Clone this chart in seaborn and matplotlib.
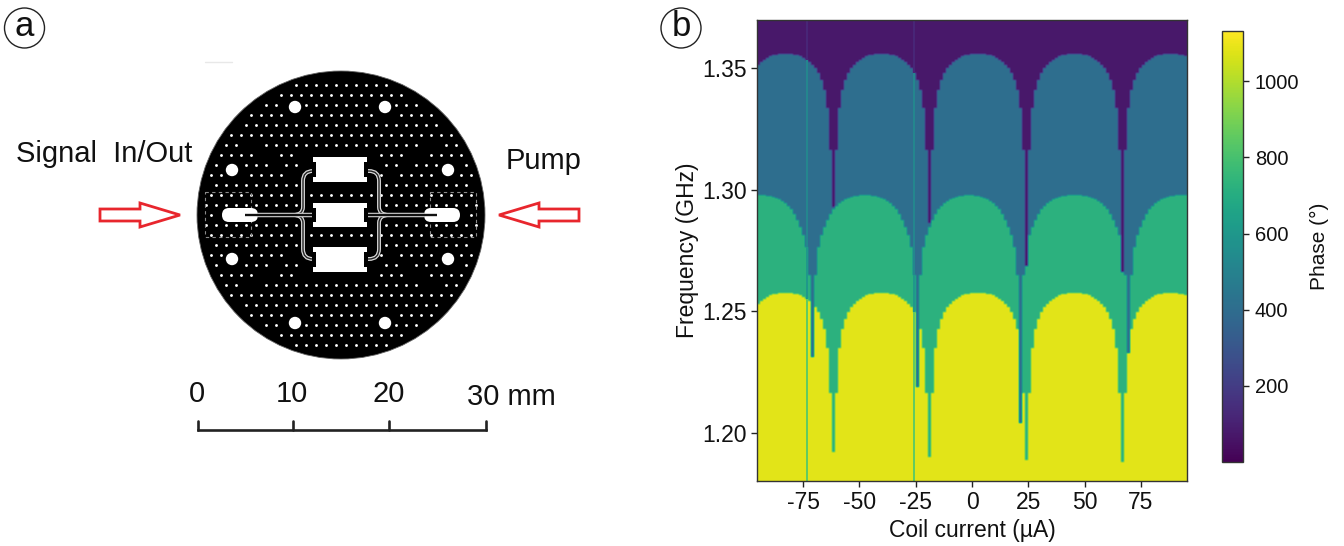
import numpy as np
import matplotlib
matplotlib.use("Agg")
import matplotlib.pyplot as plt
from matplotlib.patches import Circle, Rectangle, FancyBboxPatch, Polygon, PathPatch
from matplotlib.path import Path
import seaborn as sns

# ---------- data ----------
current_range = [-95.5, 95.5]      # Coil current, uA
frequency_range = [1.1803, 1.3697]  # GHz
x_ticks = [-75, -50, -25, 0, 25, 50, 75]
y_ticks = [1.20, 1.25, 1.30, 1.35]
cbar_ticks = [200, 400, 600, 800, 1000]
phase_limits = [0, 1132]

# phase plateau of each region, from high to low frequency
band_phase = [75, 405, 725, 1082]
# two faulty sweeps that show as thin lines
glitch_currents = [-73.3, -25.8]
glitch_phase = [120, 520, 610, 860]

# purple/blue boundary (GHz), one value per current column
top_edge = [
    1.3513,1.3525,1.3533,1.3542,1.3548,1.3552,1.3554,1.3556,1.3558,1.3558,1.3558,1.3556,1.3554,1.3552,1.3548,1.3542,1.3533,1.3525,1.3513,1.3500,1.3480,1.3451,1.3410,1.3336,1.3164,
    1.2929,
    1.3164,1.3336,1.3410,1.3451,1.3480,1.3500,1.3513,1.3525,1.3533,1.3542,1.3548,1.3552,1.3554,1.3556,1.3558,1.3558,1.3558,1.3556,1.3554,1.3552,1.3548,1.3542,1.3533,1.3525,1.3513,1.3500,1.3480,1.3451,1.3410,1.3336,1.3164,
    1.2863,
    1.3164,1.3336,1.3410,1.3451,1.3480,1.3500,1.3513,1.3525,1.3533,1.3542,1.3548,1.3552,1.3554,1.3556,1.3558,1.3558,1.3558,1.3556,1.3554,1.3552,1.3548,1.3542,1.3533,1.3525,1.3513,1.3500,1.3480,1.3451,1.3410,1.3336,1.3164,
    1.2687,
    1.3164,1.3336,1.3410,1.3451,1.3480,1.3500,1.3513,1.3525,1.3533,1.3542,1.3548,1.3552,1.3554,1.3556,1.3558,1.3558,1.3558,1.3556,1.3554,1.3552,1.3548,1.3542,1.3533,1.3525,1.3513,1.3500,1.3480,1.3451,1.3410,1.3336,1.3164,
    1.2662,
    1.3164,1.3336,1.3410,1.3451,1.3480,1.3500,1.3513,1.3525,1.3533,1.3542,1.3548,1.3552,1.3554,1.3556,1.3558,1.3558,1.3558,1.3556,1.3554,1.3552,1.3548,
]

# blue/green boundary (GHz)
mid_edge = [
    1.2979,1.2979,1.2979,1.2974,1.2974,1.2970,1.2966,1.2962,1.2954,1.2946,1.2933,1.2921,1.2900,1.2876,1.2847,1.2814,1.2765,1.2650,
    1.2313,
    1.2650,1.2765,1.2814,1.2847,1.2876,1.2900,1.2921,1.2933,1.2946,1.2954,1.2962,1.2966,1.2970,1.2974,1.2974,1.2979,1.2979,
    1.2979,1.2979,1.2974,1.2974,1.2970,1.2966,1.2962,1.2954,1.2946,1.2933,1.2921,1.2900,1.2876,1.2847,1.2814,1.2765,1.2650,
    1.2189,
    1.2650,1.2765,1.2814,1.2847,1.2876,1.2900,1.2921,1.2933,1.2946,1.2954,1.2962,1.2966,1.2970,1.2974,1.2974,1.2979,1.2979,
    1.2979,1.2974,1.2974,1.2970,1.2966,1.2962,1.2954,1.2946,1.2933,1.2921,1.2900,1.2876,1.2847,1.2814,1.2765,1.2650,
    1.2041,
    1.2650,1.2765,1.2814,1.2847,1.2876,1.2900,1.2921,1.2933,1.2946,1.2954,1.2962,1.2966,1.2970,1.2974,1.2974,1.2979,1.2979,
    1.2979,
    1.2979,1.2979,1.2974,1.2974,1.2970,1.2966,1.2962,1.2954,1.2946,1.2933,1.2921,1.2900,1.2876,1.2847,1.2814,1.2765,1.2650,
    1.2329,
    1.2650,1.2765,1.2814,1.2847,1.2876,1.2900,1.2921,1.2933,1.2946,1.2954,1.2962,1.2966,1.2970,1.2974,1.2974,1.2979,1.2979,
    1.2979,1.2979,
]

# green/yellow boundary (GHz)
low_edge = [
    1.2531,1.2543,1.2551,1.2559,1.2566,1.2570,1.2572,1.2574,1.2576,1.2576,1.2576,1.2574,1.2572,1.2570,1.2566,1.2559,1.2551,1.2543,1.2531,1.2518,1.2498,1.2469,1.2428,1.2350,1.2165,
    1.1922,
    1.2165,1.2350,1.2428,1.2469,1.2498,1.2518,1.2531,1.2543,1.2551,1.2559,1.2566,1.2570,1.2572,1.2574,1.2576,1.2576,1.2576,1.2574,1.2572,1.2570,1.2566,1.2559,1.2551,1.2543,1.2531,1.2518,1.2498,1.2469,1.2428,1.2350,1.2165,
    1.1902,
    1.2165,1.2350,1.2428,1.2469,1.2498,1.2518,1.2531,1.2543,1.2551,1.2559,1.2566,1.2570,1.2572,1.2574,1.2576,1.2576,1.2576,1.2574,1.2572,1.2570,1.2566,1.2559,1.2551,1.2543,1.2531,1.2518,1.2498,1.2469,1.2428,1.2350,1.2165,
    1.1889,
    1.2165,1.2350,1.2428,1.2469,1.2498,1.2518,1.2531,1.2543,1.2551,1.2559,1.2566,1.2570,1.2572,1.2574,1.2576,1.2576,1.2576,1.2574,1.2572,1.2570,1.2566,1.2559,1.2551,1.2543,1.2531,1.2518,1.2498,1.2469,1.2428,1.2350,1.2165,
    1.1881,
    1.2165,1.2350,1.2428,1.2469,1.2498,1.2518,1.2531,1.2543,1.2551,1.2559,1.2566,1.2570,1.2572,1.2574,1.2576,1.2576,1.2576,1.2574,1.2572,1.2570,1.2566,
]

scale_labels = ["0", "10", "20", "30 mm"]

# ---------- figure ----------
sns.set_theme(style="ticks")
plt.rcParams["font.family"] = ["Liberation Sans", "DejaVu Sans"]
plt.rcParams["axes.unicode_minus"] = False

W, H = 1344, 546
fig = plt.figure(figsize=(W / 100, H / 100), dpi=100)

# ---------- panel a: drawn on a full-figure canvas in pixels ----------
bg = fig.add_axes([0, 0, 1, 1], zorder=0)
bg.set_xlim(0, W)
bg.set_ylim(H, 0)
bg.axis("off")

cx, cy, r = 341, 215, 144
bg.add_patch(Circle((cx, cy), r, fc="black", ec="#666666", lw=0.6))
bg.plot([205, 232], [62, 62], color="#e8e8e8", lw=1)

holes = [(295, 107), (385, 107), (232, 170), (448, 170),
         (232, 259), (448, 259), (295, 323), (385, 323)]
rects = [(157, 182), (203, 227), (247, 272)]

dx, dy = [], []
for i in range(-15, 16):
    for j in range(-15, 16):
        x = cx + 10 * j + (5 if i % 2 else 0)
        y = cy + 10 * i
        rad = np.hypot(x - cx, y - cy)
        if rad > r - 6:
            continue
        if any(np.hypot(x - hx, y - hy) < 11 for hx, hy in holes):
            continue
        if 299 < x < 381 and 150 < y < 280 and not (
            308 < x < 372 and (187 < y < 198 or 232 < y < 242)):
            continue
        if abs(y - cy) < 6 and (218 < x < 300 or 382 < x < 464):
            continue
        ang = np.degrees(np.arctan2(abs(y - cy), abs(x - cx)))
        if 60 < rad < 125 and abs(ang - 38) < 3:
            continue
        dx.append(x)
        dy.append(y)
bg.scatter(dx, dy, s=4.2, c="white", linewidths=0, zorder=2)

for hx, hy in holes:
    bg.add_patch(Circle((hx, hy), 6.2, fc="white", ec="none", zorder=3))

# dashed launch frames
for x0 in (205, 430):
    bg.add_patch(Rectangle((x0, 192), 46, 45, fc="none", ec="#8a8a8a", lw=0.8,
                           ls=(0, (3, 3)), zorder=3))

# feed lines and couplers
for sx in (1, -1):
    for sy in (1, -1):
        verts = [(cx + sx * 48, cy), (cx + sx * 38, cy), (cx + sx * 38, cy + sy * 8),
                 (cx + sx * 38, cy + sy * 15), (cx + sx * 38, cy + sy * 34),
                 (cx + sx * 38, cy + sy * 44), (cx + sx * 28, cy + sy * 44),
                 (cx + sx * 26, cy + sy * 44)]
        codes = [Path.MOVETO, Path.CURVE3, Path.CURVE3, Path.LINETO, Path.LINETO,
                 Path.CURVE3, Path.CURVE3, Path.LINETO]
        path = Path(verts, codes)
        bg.add_patch(PathPatch(path, fc="none", ec="#d8d8d8", lw=2.8, zorder=4))
        bg.add_patch(PathPatch(path, fc="none", ec="#222222", lw=1.0, zorder=5))

# launch slots
for x0 in (222, 424):
    bg.add_patch(FancyBboxPatch((x0, 208), 36, 14, boxstyle="round,pad=0,rounding_size=7",
                                mutation_aspect=1, fc="white", ec="none", zorder=4))
bg.plot([258, 424], [214.5, 214.5], color="#e0e0e0", lw=3.2, zorder=5, solid_capstyle="butt")
bg.plot([245, 437], [214.5, 214.5], color="#111111", lw=1.7, zorder=6, solid_capstyle="butt")

# white resonator blocks
for top, bottom in rects:
    bg.add_patch(Rectangle((313, top), 54, bottom - top, fc="white", ec="none", zorder=7))
    for xn in (312, 364):
        bg.add_patch(Rectangle((xn, top + 5), 4, bottom - top - 10, fc="black", ec="none", zorder=8))

# red arrows
red = "#e8262d"
left_arrow = [(100, 209), (140, 209), (140, 203), (180, 215), (140, 227), (140, 221), (100, 221)]
bg.add_patch(Polygon(left_arrow, closed=True, fc="white", ec=red, lw=2, joinstyle="miter"))
right_arrow = [(579, 209), (539, 209), (539, 203), (499, 215), (539, 227), (539, 221), (579, 221)]
bg.add_patch(Polygon(right_arrow, closed=True, fc="white", ec=red, lw=2, joinstyle="miter"))

txt = dict(fontsize=21, color="#111111", va="baseline")
bg.text(16, 162, "Signal  In/Out", ha="left", **txt)
bg.text(506, 169, "Pump", ha="left", **txt)

# scale bar
bar_x = [198, 293, 389, 486]
bg.plot([bar_x[0], bar_x[-1]], [430, 430], color="#222222", lw=1.9, solid_capstyle="projecting")
for x in bar_x:
    bg.plot([x, x], [421, 430], color="#222222", lw=1.9)
bg.text(197, 402, scale_labels[0], ha="center", **txt)
bg.text(292, 402, scale_labels[1], ha="center", **txt)
bg.text(389, 402, scale_labels[2], ha="center", **txt)
bg.text(467, 405, scale_labels[3], ha="left", **txt)

# panel letters
for (lx, ly, s) in [(24.5, 28, "a"), (681, 28, "b")]:
    bg.add_patch(Circle((lx, ly), 20, fc="white", ec="#222222", lw=1))
    bg.text(lx, ly - 1, s, fontsize=25, color="#111111", ha="center", va="center")

# ---------- panel b ----------
n_sweeps = len(top_edge)
sub = 3                 # each sweep column is resampled to 3 image columns
n_cols = n_sweeps * sub
n_rows = 461
col_edges = np.linspace(current_range[0], current_range[1], n_cols + 1)
col_centers = 0.5 * (col_edges[:-1] + col_edges[1:])
row_edges = np.linspace(frequency_range[1], frequency_range[0], n_rows + 1)
row_centers = 0.5 * (row_edges[:-1] + row_edges[1:])

top = np.repeat(np.array(top_edge), sub)[None, :]
mid = np.repeat(np.array(mid_edge), sub)[None, :]
low = np.repeat(np.array(low_edge), sub)[None, :]
F = row_centers[:, None]
masks = [F > top, F > mid, F > low]
Z = np.select(masks, band_phase[:3], default=band_phase[3]).astype(float)

# slight softening, as in the resampled original image
kernel = np.array([0.25, 0.5, 0.25])
pad = np.pad(Z, ((0, 0), (1, 1)), mode="edge")
Z = kernel[0] * pad[:, :-2] + kernel[1] * pad[:, 1:-1] + kernel[2] * pad[:, 2:]
pad = np.pad(Z, ((1, 1), (0, 0)), mode="edge")
Z = kernel[0] * pad[:-2, :] + kernel[1] * pad[1:-1, :] + kernel[2] * pad[2:, :]

for g in glitch_currents:
    k = int(np.searchsorted(col_edges, g)) - 1
    Z[:, k:k + 2] = np.select([m[:, k:k + 2] for m in masks], glitch_phase[:3],
                              default=glitch_phase[3])

ax = fig.add_axes([757 / W, 1 - 481 / H, 430 / W, 461 / H], zorder=2)
cax = fig.add_axes([1222 / W, 1 - 462 / H, 21 / W, 431 / H], zorder=2)
sns.heatmap(Z, ax=ax, cbar_ax=cax, cmap=sns.color_palette("viridis", as_cmap=True),
            vmin=phase_limits[0], vmax=phase_limits[1],
            xticklabels=False, yticklabels=False, rasterized=True,
            cbar_kws={"ticks": cbar_ticks})

for s in ax.spines.values():
    s.set_visible(True)
    s.set_linewidth(1.0)
    s.set_color("#333333")
ax.set_xticks(np.interp(x_ticks, col_centers, np.arange(n_cols) + 0.5))
ax.set_xticklabels([str(v) for v in x_ticks])
ax.set_yticks(np.interp(y_ticks, row_centers[::-1], (np.arange(n_rows) + 0.5)[::-1]))
ax.set_yticklabels([f"{v:.2f}" for v in y_ticks], rotation=0)
ax.tick_params(axis="both", length=4.5, width=1, color="#222222", labelsize=16.5,
               labelcolor="#111111", pad=3, bottom=True, left=True)
ax.set_xlabel("Coil current (µA)", fontsize=16.5, color="#111111", labelpad=3)
ax.set_ylabel("Frequency (GHz)", fontsize=16.5, color="#111111", labelpad=2)

cb = ax.collections[0].colorbar
cb.outline.set_visible(True)
cb.outline.set_linewidth(1)
cb.outline.set_edgecolor("#333333")
cb.ax.tick_params(length=4.5, width=1, color="#222222", labelsize=14.5,
                  labelcolor="#111111", pad=4)
cb.set_label("Phase (°)", fontsize=15, color="#111111", labelpad=8)

fig.savefig("out.png", dpi=100, facecolor="white")
